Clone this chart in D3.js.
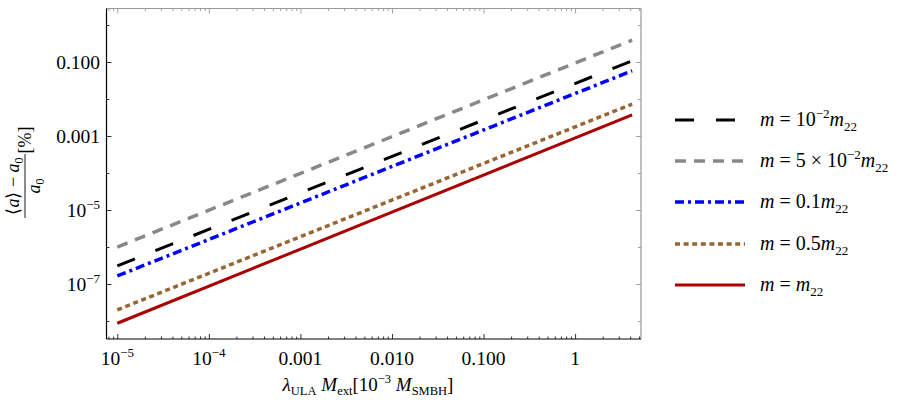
<!DOCTYPE html>
<html><head><meta charset="utf-8">
<script src="https://cdn.jsdelivr.net/npm/d3@7"></script>
<style>body{margin:0;background:#fff}svg{display:block}text{font-family:"Liberation Serif","Times New Roman",serif;fill:#000}</style>
</head><body><svg id="c" width="910" height="410"></svg>
<script>
// ---- data ----
const xStart = [1e-5, 4.2];
const seriesNames = ["m1e-2","m5e-2","m0.1","m0.5","m1"];
const grayVals  = [1.0e-6, 0.39];
const blackVals = [3.1e-7, 0.108];
const blueVals  = [1.65e-7, 0.058];
const brownVals = [2.0e-8, 0.0073];
const redVals   = [8.7e-9, 0.0037];
const xTickValues = [1e-5,1e-4,1e-3,1e-2,1e-1,1];
const xTickLabels = [["10","−5"],["10","−4"],["0.001"],["0.010"],["0.100"],["1"]];
const yTickValues = [1e-1,1e-3,1e-5,1e-7];
const yTickLabels = [["0.100"],["0.001"],["10","−5"],["10","−7"]];
const yMinorValues = [1,1e-2,1e-4,1e-6,1e-8];

// ---- layout ----
const L=106.5, R=641, T=8.5, B=339;
const svg=d3.select("#c");
const x=d3.scaleLog().domain([Math.pow(10,-5.118),Math.pow(10,0.72)]).range([L,R]);
const y=d3.scaleLog().domain([Math.pow(10,-8.486),Math.pow(10,0.446)]).range([B,T]);

const series=[
 {vals:blackVals,color:"#000000",w:3,dash:"19,22",label:[["m","i"],[" = 10",""],["−2","sup"],["m","i"],["22","sub"]]},
 {vals:grayVals,color:"#888888",w:3.5,dash:"11,8",label:[["m","i"],[" = 5 × 10",""],["−2","sup"],["m","i"],["22","sub"]]},
 {vals:blueVals,color:"#0000ff",w:3.5,dash:"9,4,3,4",label:[["m","i"],[" = 0.1",""],["m","i"],["22","sub"]]},
 {vals:brownVals,color:"#996633",w:3.5,dash:"5,3.6",label:[["m","i"],[" = 0.5",""],["m","i"],["22","sub"]]},
 {vals:redVals,color:"#aa0000",w:3,dash:null,label:[["m","i"],[" = ",""],["m","i"],["22","sub"]]}
];

svg.append("clipPath").attr("id","clip").append("rect").attr("x",L).attr("y",T).attr("width",R-L).attr("height",B-T);

// minor x ticks
const xMinor=[];
for(let e=-6;e<=1;e++)for(let k=2;k<=9;k++){const v=k*Math.pow(10,e);if(v>x.domain()[0]&&v<x.domain()[1])xMinor.push(v);}

function axisG(axis,tx,ty,color){
  const g=svg.append("g").attr("transform",`translate(${tx},${ty})`).call(axis);
  g.select(".domain").remove();
  g.selectAll("line").attr("stroke",color).attr("stroke-width",0.8);
  g.selectAll("text").remove();
  return g;
}
axisG(d3.axisBottom(x).tickValues(xTickValues).tickSize(-5).tickFormat(""),0,B,"#000");
axisG(d3.axisBottom(x).tickValues(xMinor).tickSize(-2.5).tickFormat(""),0,B,"#000");
axisG(d3.axisTop(x).tickValues(xTickValues).tickSize(-5).tickFormat(""),0,T,"#888");
axisG(d3.axisTop(x).tickValues(xMinor).tickSize(-2.5).tickFormat(""),0,T,"#888");
axisG(d3.axisLeft(y).tickValues(yTickValues).tickSize(-5).tickFormat(""),L,0,"#000");
axisG(d3.axisLeft(y).tickValues(yMinorValues).tickSize(-3).tickFormat(""),L,0,"#000");
axisG(d3.axisRight(y).tickValues(yTickValues).tickSize(-5).tickFormat(""),R,0,"#888");
axisG(d3.axisRight(y).tickValues(yMinorValues).tickSize(-3).tickFormat(""),R,0,"#888");

// frame
svg.append("line").attr("x1",L).attr("x2",R).attr("y1",T).attr("y2",T).attr("stroke","#999").attr("stroke-width",1.2);
svg.append("line").attr("x1",R).attr("x2",R).attr("y1",T).attr("y2",B).attr("stroke","#999").attr("stroke-width",1.2);
svg.append("line").attr("x1",L).attr("x2",R).attr("y1",B).attr("y2",B).attr("stroke","#000").attr("stroke-width",1.2);
svg.append("line").attr("x1",L).attr("x2",L).attr("y1",T).attr("y2",B).attr("stroke","#000").attr("stroke-width",1.2);

// tick labels
function addLbl(sel,parts){
  sel.append("tspan").text(parts[0]);
  if(parts[1]) sel.append("tspan").attr("dy",-8).attr("font-size",13).text(parts[1]);
}
xTickValues.forEach((v,i)=>{
  const t=svg.append("text").attr("x",x(v)).attr("y",365).attr("text-anchor","middle").attr("font-size",19.5);
  addLbl(t,xTickLabels[i]);
});
yTickValues.forEach((v,i)=>{
  const t=svg.append("text").attr("x",100).attr("y",y(v)+6.5).attr("text-anchor","end").attr("font-size",19.5);
  addLbl(t,yTickLabels[i]);
});

// lines
const line=d3.line().x((d,i)=>x(xStart[i])).y(d=>y(d));
const gl=svg.append("g").attr("clip-path","url(#clip)");
series.forEach(s=>{
  gl.append("path").datum(s.vals).attr("d",line).attr("fill","none").attr("stroke",s.color)
    .attr("stroke-width",s.w).attr("stroke-dasharray",s.dash);
});

// legend
const legY=[120,161,202,244,285];
series.forEach((s,i)=>{
  svg.append("line").attr("x1",675).attr("x2",745).attr("y1",legY[i]).attr("y2",legY[i])
    .attr("stroke",s.color).attr("stroke-width",s.w).attr("stroke-dasharray",s.dash);
  const t=svg.append("text").attr("x",760).attr("y",legY[i]+6).attr("font-size",20);
  let shift=0;
  s.label.forEach(p=>{
    const ts=t.append("tspan").text(p[0]);
    if(p[1]==="i") {ts.attr("font-style","italic"); if(shift){ts.attr("dy",-shift);shift=0;}}
    else if(p[1]==="sup"){ts.attr("dy",-8).attr("font-size",13);shift=-8;}
    else if(p[1]==="sub"){ts.attr("dy",(shift?-shift:0)+5).attr("font-size",13);shift=5;}
    else { if(shift){ts.attr("dy",-shift);shift=0;} }
  });
});

// x label
const xl=svg.append("text").attr("x",368).attr("y",391).attr("text-anchor","middle").attr("font-size",19);
xl.append("tspan").attr("font-style","italic").text("λ");
xl.append("tspan").attr("dy",4).attr("font-size",12.5).text("ULA");
xl.append("tspan").attr("dy",-4).attr("font-style","italic").text(" M");
xl.append("tspan").attr("dy",4).attr("font-size",12.5).text("ext");
xl.append("tspan").attr("dy",-4).text("[10");
xl.append("tspan").attr("dy",-8).attr("font-size",12.5).text("−3");
xl.append("tspan").attr("dy",8).attr("font-style","italic").text(" M");
xl.append("tspan").attr("dy",4).attr("font-size",12.5).text("SMBH");
xl.append("tspan").attr("dy",-4).text("]");

// y label
const yl=svg.append("g").attr("transform","translate(25,186) rotate(-90)");
const num=yl.append("text").attr("x",0).attr("y",-6).attr("text-anchor","middle").attr("font-size",18);
num.append("tspan").text("⟨");
num.append("tspan").attr("font-style","italic").text("a");
num.append("tspan").text("⟩ − ");
num.append("tspan").attr("font-style","italic").text("a");
num.append("tspan").attr("dy",4).attr("font-size",12).text("0");
yl.append("line").attr("x1",-32).attr("x2",32).attr("y1",0).attr("y2",0).attr("stroke","#000").attr("stroke-width",0.9);
const den=yl.append("text").attr("x",0).attr("y",15).attr("text-anchor","middle").attr("font-size",18);
den.append("tspan").attr("font-style","italic").text("a");
den.append("tspan").attr("dy",4).attr("font-size",12).text("0");
yl.append("text").attr("x",46).attr("y",6).attr("text-anchor","middle").attr("font-size",18).text("[%]");
</script></body></html>
